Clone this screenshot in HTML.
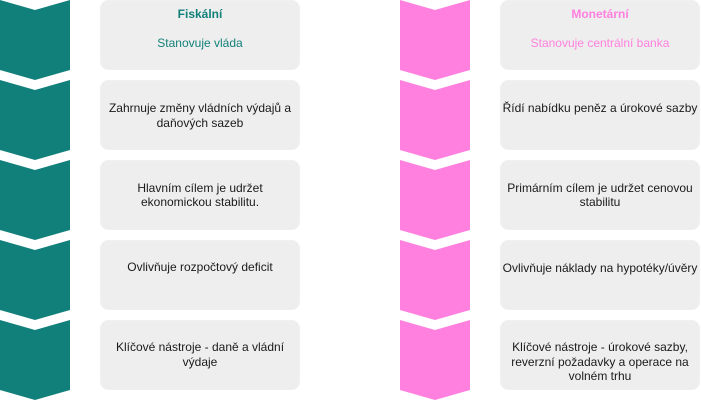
<!DOCTYPE html>
<html>
<head>
<meta charset="utf-8">
<style>
  html, body { margin: 0; padding: 0; background: #ffffff; }
  body { width: 701px; height: 401px; overflow: hidden; }
  svg { display: block; }
  text { font-family: "Liberation Sans", Arial, sans-serif; font-size: 12px; fill: #1a1a1a; }
</style>
</head>
<body>
<svg width="701" height="401" viewBox="0 0 701 401" xmlns="http://www.w3.org/2000/svg">
  <!-- Left chevrons (teal) -->
  <g fill="#12807A">
    <polygon points="0,0 35,10 70,0 70,70 35,80 0,70"/>
    <polygon points="0,80 35,90 70,80 70,150 35,160 0,150"/>
    <polygon points="0,160 35,170 70,160 70,230 35,240 0,230"/>
    <polygon points="0,240 35,250 70,240 70,310 35,320 0,310"/>
    <polygon points="0,320 35,330 70,320 70,390 35,400 0,390"/>
  </g>
  <!-- Right chevrons (pink) -->
  <g fill="#FF80DF">
    <polygon points="400,0 435,10 470,0 470,70 435,80 400,70"/>
    <polygon points="400,80 435,90 470,80 470,150 435,160 400,150"/>
    <polygon points="400,160 435,170 470,160 470,230 435,240 400,230"/>
    <polygon points="400,240 435,250 470,240 470,310 435,320 400,310"/>
    <polygon points="400,320 435,330 470,320 470,390 435,400 400,390"/>
  </g>
  <!-- Boxes -->
  <g fill="#EEEEEE" stroke="#F0F0F0" stroke-width="1">
    <rect x="100.5" y="0.5" width="199" height="69" rx="8" ry="8"/>
    <rect x="100.5" y="80.5" width="199" height="69" rx="8" ry="8"/>
    <rect x="100.5" y="160.5" width="199" height="69" rx="8" ry="8"/>
    <rect x="100.5" y="240.5" width="199" height="69" rx="8" ry="8"/>
    <rect x="100.5" y="320.5" width="199" height="69" rx="8" ry="8"/>
    <rect x="500.5" y="0.5" width="199" height="69" rx="8" ry="8"/>
    <rect x="500.5" y="80.5" width="199" height="69" rx="8" ry="8"/>
    <rect x="500.5" y="160.5" width="199" height="69" rx="8" ry="8"/>
    <rect x="500.5" y="240.5" width="199" height="69" rx="8" ry="8"/>
    <rect x="500.5" y="320.5" width="199" height="69" rx="8" ry="8"/>
  </g>
  <!-- Left texts -->
  <g text-anchor="middle">
    <text x="200" y="18" style="fill:#12807A;font-weight:bold">Fiskální</text>
    <text x="200" y="47" style="fill:#12807A">Stanovuje vláda</text>
    <text x="200" y="112">Zahrnuje změny vládních výdajů a</text>
    <text x="200" y="127">daňových sazeb</text>
    <text x="200" y="192">Hlavním cílem je udržet</text>
    <text x="200" y="206">ekonomickou stabilitu.</text>
    <text x="200" y="271">Ovlivňuje rozpočtový deficit</text>
    <text x="200" y="351">Klíčové nástroje - daně a vládní</text>
    <text x="200" y="366">výdaje</text>
  </g>
  <!-- Right texts -->
  <g text-anchor="middle">
    <text x="600" y="18" style="fill:#FF80DF;font-weight:bold">Monetární</text>
    <text x="600" y="47" style="fill:#FF80DF">Stanovuje centrální banka</text>
    <text x="600" y="112">Řídí nabídku peněz a úrokové sazby</text>
    <text x="600" y="192">Primárním cílem je udržet cenovou</text>
    <text x="600" y="206">stabilitu</text>
    <text x="600" y="272">Ovlivňuje náklady na hypotéky/úvěry</text>
    <text x="600" y="351">Klíčové nástroje - úrokové sazby,</text>
    <text x="600" y="366">reverzní požadavky a operace na</text>
    <text x="600" y="380">volném trhu</text>
  </g>
</svg>
</body>
</html>
